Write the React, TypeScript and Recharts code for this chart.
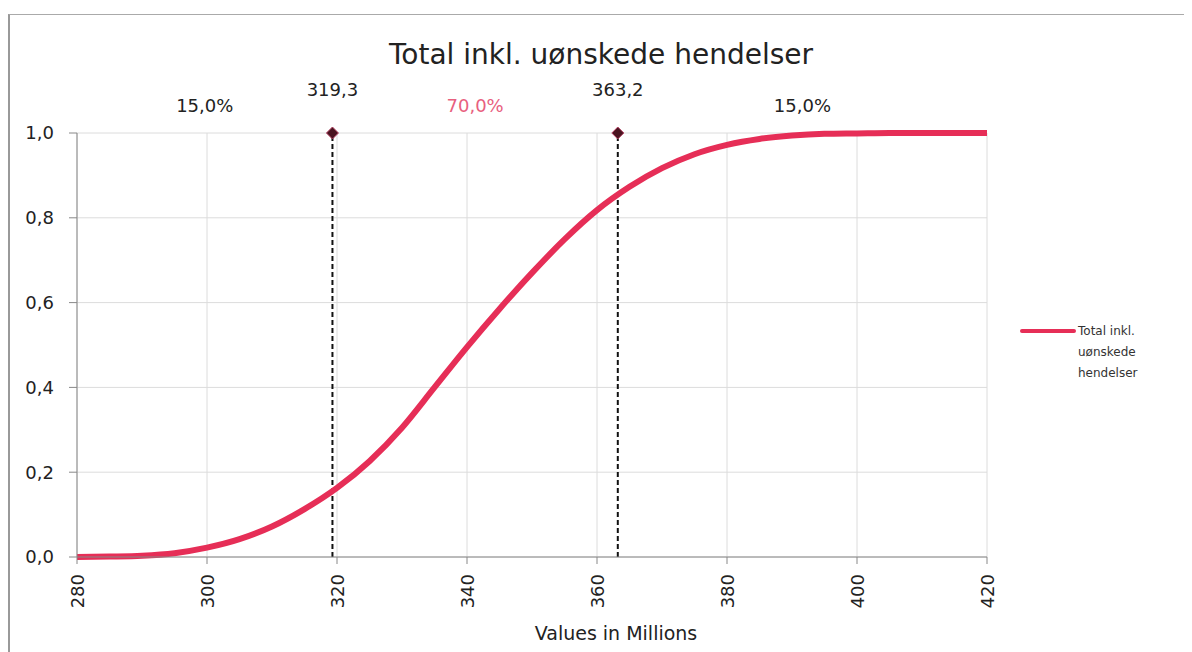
import {
  CartesianGrid,
  Line,
  LineChart,
  ReferenceDot,
  ReferenceLine,
  XAxis,
  YAxis,
} from "recharts";

// values in millions
const xValues = [
  280, 285, 290, 295, 300, 305, 310, 315, 320, 325, 330, 335, 340, 345, 350,
  355, 360, 365, 370, 375, 380, 385, 390, 395, 400, 405, 410, 415, 420,
];
// cumulative probability
const cumProb = [
  0.0, 0.001, 0.003, 0.009, 0.022, 0.042, 0.072, 0.113, 0.163, 0.226, 0.305,
  0.4, 0.495, 0.585, 0.67, 0.749, 0.818, 0.873, 0.917, 0.95, 0.972, 0.986,
  0.994, 0.998, 0.999, 1.0, 1.0, 1.0, 1.0,
];

const xTicks = [280, 300, 320, 340, 360, 380, 400, 420];
const yTicks = [0, 0.2, 0.4, 0.6, 0.8, 1.0];

// delimiters and the share of probability between them
const markers = [319.3, 363.2];
const markerLabels = ["319,3", "363,2"];
const bands = [280, 319.3, 363.2, 420];
const bandLabels = ["15,0%", "70,0%", "15,0%"];
const bandColors = ["#222", "#e8607e", "#222"];

const legendLines = ["Total inkl.", "uønskede", "hendelser"];
const title = "Total inkl. uønskede hendelser";

const RED = "#e62e57";
const FONT = "DejaVu Sans, Verdana, sans-serif";

const chartData = xValues.map((x, i) => ({ x, p: cumProb[i] }));

const fmt = (v: number) => v.toFixed(1).replace(".", ",");

const XTick = (props: any) => {
  const { x, y, payload } = props;
  return (
    <text
      x={x}
      y={y}
      transform={`rotate(-90 ${x} ${y})`}
      dx={-8}
      dy="0.4em"
      textAnchor="end"
      fill="#222"
      fontSize={18}
      fontFamily={FONT}
    >
      {payload.value}
    </text>
  );
};

const Diamond = (props: any) => {
  const { cx, cy } = props;
  const s = 6;
  return (
    <path
      d={`M${cx},${cy - s} L${cx + s},${cy} L${cx},${cy + s} L${cx - s},${cy} Z`}
      fill="#4a1420"
      stroke="#b04060"
      strokeWidth={1}
    />
  );
};

export default function App() {
  return (
    <div
      style={{
        position: "relative",
        marginTop: 6,
        width: 1184,
        height: 638,
        borderLeft: "2px solid #999",
        borderTop: "1px solid #aaa",
        overflow: "hidden",
      }}
    >
      <div
        style={{
          position: "absolute",
          left: 0,
          top: 23,
          width: 1182,
          textAlign: "center",
          fontFamily: FONT,
          fontSize: 28,
          color: "#222",
        }}
      >
        {title}
      </div>
      <div
        style={{
          position: "absolute",
          left: 1010,
          top: 306,
          display: "flex",
          fontFamily: FONT,
          fontSize: 12,
          color: "#333",
        }}
      >
        <div
          style={{
            width: 56,
            height: 4,
            background: RED,
            marginTop: 8,
            borderRadius: 2,
          }}
        />
        <div style={{ lineHeight: "21px", marginLeft: 2 }}>
          {legendLines.map((l) => (
            <div key={l}>{l}</div>
          ))}
        </div>
      </div>
      <LineChart
        width={1182}
        height={637}
        data={chartData}
        margin={{ top: 118, right: 205, bottom: 0, left: 0 }}
      >
        <CartesianGrid stroke="#dcdcdc" strokeWidth={1} />
        <XAxis
          dataKey="x"
          type="number"
          domain={[280, 420]}
          ticks={xTicks}
          interval={0}
          height={95}
          tick={<XTick />}
          tickSize={7}
          stroke="#888"
          label={{
            value: "Values in Millions",
            position: "insideBottom",
            offset: 12,
            dx: 84,
            fill: "#222",
            fontSize: 19,
            fontFamily: FONT,
          }}
        />
        <YAxis
          type="number"
          domain={[0, 1]}
          ticks={yTicks}
          interval={0}
          width={67}
          tickSize={8}
          tickMargin={15}
          tickFormatter={fmt}
          stroke="#888"
          tick={{ fill: "#222", fontSize: 18, fontFamily: FONT }}
        />
        {markers.map((m) => (
          <ReferenceLine
            key={`l${m}`}
            segment={[
              { x: m, y: 0 },
              { x: m, y: 1 },
            ]}
            stroke="#111"
            strokeWidth={2}
            strokeDasharray="5 3"
          />
        ))}
        <Line
          type="monotone"
          dataKey="p"
          stroke={RED}
          strokeWidth={6}
          dot={false}
          isAnimationActive={false}
        />
        {markers.map((m, i) => (
          <ReferenceDot
            key={`d${m}`}
            x={m}
            y={1}
            shape={<Diamond />}
            label={{
              value: markerLabels[i],
              position: "top",
              offset: 27,
              fill: "#222",
              fontSize: 18,
              fontFamily: FONT,
            }}
          />
        ))}
        {bandLabels.map((b, i) => (
          <ReferenceDot
            key={`b${i}`}
            x={(bands[i] + bands[i + 1]) / 2}
            y={1}
            r={0}
            fill="none"
            stroke="none"
            label={{
              value: b,
              position: "top",
              offset: 21,
              fill: bandColors[i],
              fontSize: 18,
              fontFamily: FONT,
            }}
          />
        ))}
      </LineChart>
    </div>
  );
}
